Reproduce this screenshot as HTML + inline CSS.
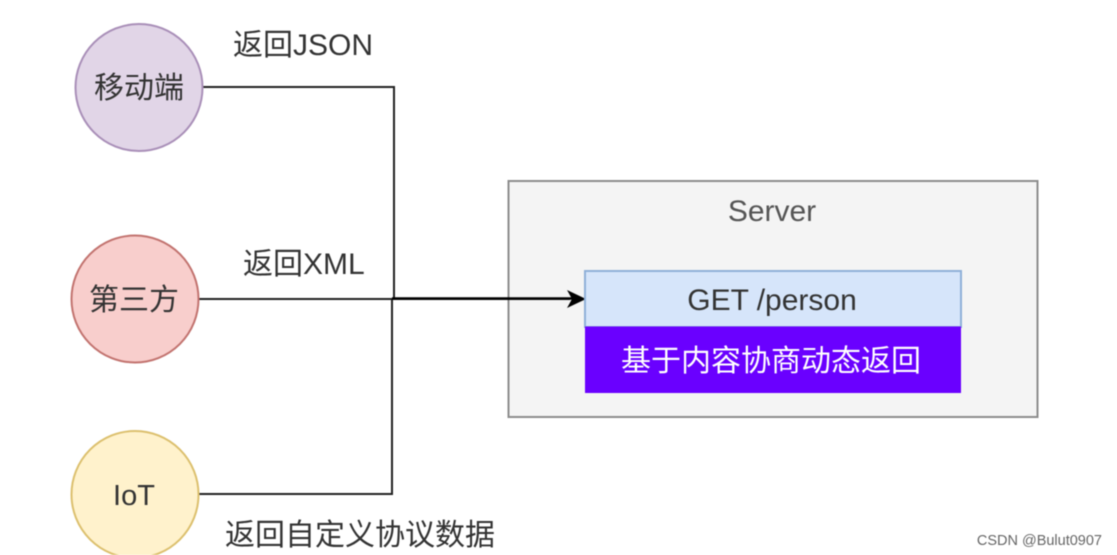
<!DOCTYPE html>
<html>
<head>
<meta charset="utf-8">
<style>
html,body{margin:0;padding:0;background:#fff;width:1117px;height:555px;overflow:hidden}
svg{display:block;filter:blur(.4px)}
text{font-family:"Liberation Sans","Noto Sans CJK SC",sans-serif}
</style>
</head>
<body>
<svg width="1117" height="555" viewBox="0 0 1117 555" xmlns="http://www.w3.org/2000/svg">
<rect x="508.500" y="181" width="529" height="236" fill="#f4f4f4" stroke="#8c8c8c" stroke-width="2"/>
<text x="772" y="221" font-size="30" fill="#555" text-anchor="middle">Server</text>

<path d="M203 87H394V298" fill="none" stroke="#222" stroke-width="2"/>
<path d="M199 299H570" fill="none" stroke="#222" stroke-width="2"/>
<path d="M199 494H392V299" fill="none" stroke="#222" stroke-width="2"/>
<path d="M392 298.500H572" fill="none" stroke="#000" stroke-width="2.600"/>
<path d="M586 299L567 290L572 299L567 308Z" fill="#000"/>

<circle cx="139" cy="87.500" r="63.500" fill="#e1d5e7" stroke="#a98fb8" stroke-width="2"/>
<circle cx="135" cy="299" r="63.500" fill="#f8cecc" stroke="#c2736f" stroke-width="2"/>
<circle cx="135" cy="494.500" r="63.500" fill="#fff2cc" stroke="#dcc06e" stroke-width="2"/>

<rect x="585" y="271" width="376" height="56" fill="#d6e5fa" stroke="#8fb0d8" stroke-width="2"/>
<rect x="585" y="326.500" width="376" height="66.500" fill="#6a00ff"/>

<text x="139" y="98" font-size="30" fill="#333" text-anchor="middle">移动端</text>
<text x="134" y="310" font-size="30" fill="#333" text-anchor="middle">第三方</text>
<text x="134" y="505" font-size="29" fill="#333" text-anchor="middle">IoT</text>

<text x="233" y="55" font-size="30" fill="#333">返回JSON</text>
<text x="243" y="274" font-size="30" fill="#333">返回XML</text>
<text x="225" y="545" font-size="30" fill="#333">返回自定义协议数据</text>

<text x="772" y="310" font-size="30" fill="#333" text-anchor="middle">GET /person</text>
<text x="771" y="371" font-size="30" fill="#fff" text-anchor="middle">基于内容协商动态返回</text>

<text x="1102" y="545" font-size="14.500" fill="#666" text-anchor="end">CSDN @Bulut0907</text>
</svg>
</body>
</html>
